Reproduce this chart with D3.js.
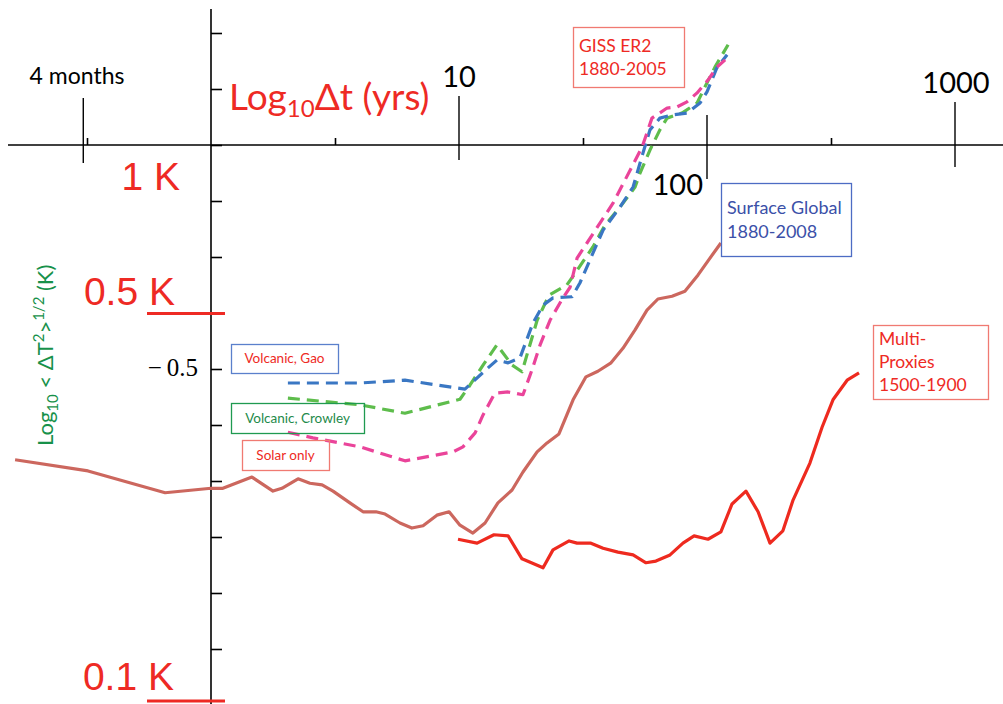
<!DOCTYPE html>
<html>
  <head>
    <meta charset="utf-8" />
    <script src="https://cdn.jsdelivr.net/npm/d3@7"></script>
    <style>
body { margin: 0; background: #ffffff; }
svg { display: block; }
.axis line { stroke: #000; stroke-width: 1.6; }
.axis path { display: none; }
.lbl { font-family: Lato, "Open Sans", sans-serif; }
.big { font-family: "Liberation Sans", Arial, sans-serif; fill: #ee2a24; font-size: 39px; }
    </style>
  </head>
  <body>
    <div id="chart"></div>
    <script type="text/javascript">
var w = 1003, h = 704;

// x = log10(dt in years), y = log10(rms dT in K)
var surfaceX = [-0.790,-0.496,-0.185,0,0.048,0.165,0.25,0.286,0.351,0.399,0.448,0.492,0.560,0.613,0.665,0.702,0.762,0.810,0.855,0.911,0.960,1.004,1.056,1.105,1.157,1.214,1.258,1.315,1.355,1.403,1.460,1.512,1.560,1.613,1.661,1.710,1.758,1.802,1.859,1.911,1.964,2.012,2.056];
var surfaceY = [-0.562,-0.582,-0.621,-0.613,-0.613,-0.593,-0.618,-0.613,-0.596,-0.604,-0.607,-0.618,-0.639,-0.655,-0.655,-0.659,-0.675,-0.684,-0.680,-0.661,-0.655,-0.679,-0.693,-0.675,-0.639,-0.616,-0.584,-0.548,-0.532,-0.516,-0.455,-0.414,-0.404,-0.389,-0.363,-0.330,-0.295,-0.275,-0.270,-0.261,-0.232,-0.202,-0.175];

var proxyX = [0.996,1.073,1.141,1.198,1.254,1.339,1.379,1.444,1.476,1.532,1.581,1.641,1.702,1.754,1.794,1.851,1.903,1.948,2.004,2.056,2.101,2.157,2.206,2.254,2.306,2.347,2.415,2.464,2.508,2.565,2.613];
var proxyY = [-0.704,-0.711,-0.696,-0.698,-0.739,-0.755,-0.723,-0.707,-0.711,-0.711,-0.720,-0.727,-0.732,-0.746,-0.743,-0.732,-0.711,-0.698,-0.704,-0.691,-0.641,-0.618,-0.655,-0.711,-0.689,-0.634,-0.568,-0.504,-0.455,-0.420,-0.407];

var crowleyX = [0.310,0.601,0.782,1.004,1.044,1.097,1.153,1.214,1.254,1.315,1.363,1.435,1.468,1.540,1.589,1.649,1.710,1.730,1.770,1.810,1.839,1.899,1.960,1.992,2.032,2.085];
var crowleyY = [-0.452,-0.464,-0.479,-0.454,-0.429,-0.393,-0.357,-0.393,-0.405,-0.313,-0.268,-0.250,-0.229,-0.182,-0.143,-0.111,-0.075,-0.050,-0.009,0.027,0.048,0.057,0.075,0.104,0.139,0.179];

var gaoX = [0.310,0.601,0.782,1.024,1.117,1.153,1.198,1.246,1.298,1.339,1.379,1.456,1.488,1.540,1.581,1.649,1.702,1.742,1.770,1.810,1.863,1.919,1.972,2.000,2.040,2.081];
var gaoY = [-0.425,-0.425,-0.420,-0.436,-0.398,-0.384,-0.389,-0.380,-0.318,-0.286,-0.273,-0.271,-0.246,-0.193,-0.152,-0.111,-0.075,-0.014,0.027,0.048,0.054,0.057,0.075,0.095,0.138,0.161];

var solarX = [0.310,0.411,0.601,0.782,0.976,1.016,1.065,1.097,1.145,1.198,1.258,1.294,1.327,1.367,1.419,1.448,1.476,1.516,1.569,1.621,1.669,1.738,1.778,1.839,1.879,1.919,1.960,2.004,2.040,2.073];
var solarY = [-0.513,-0.523,-0.539,-0.564,-0.548,-0.539,-0.514,-0.482,-0.443,-0.441,-0.446,-0.402,-0.357,-0.313,-0.273,-0.254,-0.202,-0.175,-0.139,-0.104,-0.063,-0.004,0.048,0.066,0.068,0.077,0.093,0.116,0.139,0.152];

var xMajor = [-0.515, 1, 2, 3];
var xMajorLabels = ["4 months", "10", "100", "1000"];
var xMinor = [-0.5, 0.5, 1.5, 2.5];
var yTicks = [0.2,0.1,0,-0.1,-0.2,-0.3,-0.4,-0.5,-0.6,-0.7,-0.8,-0.9,-1.0];
var kLabels = ["1 K", "0.5 K", "0.1 K"];
var kValues = [0, Math.log10(0.5), -1];

var x = d3.scaleLinear().domain([0, 1]).range([211, 459]);
var y = d3.scaleLinear().domain([0, -1]).range([145, 705]);

var svg = d3.select("#chart").append("svg")
    .attr("width", w).attr("height", h);

// axis lines
svg.append("line").attr("x1", 8).attr("x2", w).attr("y1", y(0)).attr("y2", y(0))
    .attr("stroke", "#000").attr("stroke-width", 1.6);
svg.append("line").attr("x1", x(0)).attr("x2", x(0)).attr("y1", 9).attr("y2", h)
    .attr("stroke", "#000").attr("stroke-width", 1.6);

svg.append("g").attr("class", "axis")
    .attr("transform", "translate(" + x(0) + ",0)")
    .call(d3.axisRight(y).tickValues(yTicks).tickSize(11).tickFormat(""));

svg.append("g").attr("class", "axis")
    .attr("transform", "translate(0," + y(0) + ")")
    .call(d3.axisTop(x).tickValues(xMinor).tickSize(7).tickFormat(""));

// major x ticks (cross the axis)
var majUp = [47, 49, 30, 43], majDown = [18, 15, 34, 22];
xMajor.forEach(function(v, i) {
    svg.append("line")
	.attr("x1", x(v)).attr("x2", x(v))
	.attr("y1", y(0) - majUp[i]).attr("y2", y(0) + majDown[i])
	.attr("stroke", "#000").attr("stroke-width", 1.4);
});

// major tick labels
var labPos = [[77, 84, 23, "middle"], [459, 87, 29, "middle"], [703, 195, 29, "end"], [956, 93, 29, "middle"]];
xMajorLabels.forEach(function(t, i) {
    svg.append("text").attr("class", "lbl")
	.attr("x", labPos[i][0]).attr("y", labPos[i][1])
	.attr("font-size", labPos[i][2] + "px")
	.attr("text-anchor", labPos[i][3])
	.attr("fill", "#000")
	.text(t);
});

// x axis title
var xt = svg.append("text").attr("class", "lbl")
    .attr("x", 229).attr("y", 110)
    .attr("font-size", "37px").attr("fill", "#ee2a24");
xt.append("tspan").text("Log");
xt.append("tspan").attr("font-size", "24px").attr("dy", 7).text("10");
xt.append("tspan").attr("dy", -7).text("\u0394t (yrs)");

// K labels and red markers
var kPos = [[180, 190], [175, 305], [174, 690]];
kLabels.forEach(function(t, i) {
    svg.append("text").attr("class", "big")
	.attr("x", kPos[i][0]).attr("y", kPos[i][1])
	.attr("text-anchor", "end")
	.text(t);
});
[1, 2].forEach(function(i) {
    var yy = Math.min(y(kValues[i]), 701);
    svg.append("line")
	.attr("x1", x(0) - 64).attr("x2", x(0) + 14)
	.attr("y1", yy).attr("y2", yy)
	.attr("stroke", "#ee2a24").attr("stroke-width", 3);
});

// the odd -0.5 label next to the -0.4 tick
svg.append("text")
    .attr("x", 198).attr("y", 376)
    .attr("text-anchor", "end")
    .attr("font-family", "'Liberation Serif', serif")
    .attr("font-size", "25px")
    .text("\u2212\u20090.5");

// y axis title
var yt = svg.append("text").attr("class", "lbl")
    .attr("transform", "translate(53,446) rotate(-90)")
    .attr("font-size", "22px").attr("fill", "#17914a");
yt.append("tspan").text("Log");
yt.append("tspan").attr("font-size", "15px").attr("dy", 5).text("10");
yt.append("tspan").attr("dy", -5).text(" < \u0394T");
yt.append("tspan").attr("font-size", "15px").attr("dy", -9).text("2");
yt.append("tspan").attr("dy", 9).text(">");
yt.append("tspan").attr("font-size", "15px").attr("dy", -9).text("1/2");
yt.append("tspan").attr("dy", 9).text(" (K)");

// series
function zip(a, b) { return a.map(function(v, i) { return [v, b[i]]; }); }
var line = d3.line().x(function(d) { return x(d[0]); }).y(function(d) { return y(d[1]); });

var series = [
    { pts: zip(surfaceX, surfaceY), color: "#cc675e", dash: null },
    { pts: zip(proxyX, proxyY), color: "#ee2a1f", dash: null },
    { pts: zip(crowleyX, crowleyY), color: "#5ebd4c", dash: "12,7" },
    { pts: zip(gaoX, gaoY), color: "#3a77c3", dash: "12,7" },
    { pts: zip(solarX, solarY), color: "#ea449a", dash: "12,7" }
];

svg.selectAll("path.series")
    .data(series).enter().append("path")
    .attr("class", "series")
    .attr("d", function(d) { return line(d.pts); })
    .attr("fill", "none")
    .attr("stroke", function(d) { return d.color; })
    .attr("stroke-width", 3.2)
    .attr("stroke-linejoin", "round")
    .style("stroke-dasharray", function(d) { return d.dash; });

// annotation boxes
var boxes = [
    { x: 573, y: 27, w: 111, h: 60, stroke: "#f07a72", fill: "#ee2a24", size: 17.5, lh: 23, lines: ["GISS ER2", "1880-2005"] },
    { x: 721, y: 183, w: 130, h: 73, stroke: "#4d6cc4", fill: "#3b50a8", size: 18, lh: 24, lines: ["Surface Global", "1880-2008"] },
    { x: 873, y: 325, w: 115, h: 74, stroke: "#f07a72", fill: "#ee2a24", size: 17.5, lh: 23, lines: ["Multi-", "Proxies", "1500-1900"] },
    { x: 231, y: 344, w: 107, h: 29, stroke: "#5a80cc", fill: "#ee2a24", size: 13.5, lh: 0, lines: ["Volcanic, Gao"] },
    { x: 231, y: 403, w: 133, h: 30, stroke: "#1f9a50", fill: "#1e8a4a", size: 13.5, lh: 0, lines: ["Volcanic, Crowley"] },
    { x: 242, y: 440, w: 87, h: 30, stroke: "#f07a72", fill: "#ee2a24", size: 13.5, lh: 0, lines: ["Solar only"] }
];

boxes.forEach(function(b) {
    svg.append("rect")
	.attr("x", b.x + 0.5).attr("y", b.y + 0.5)
	.attr("width", b.w).attr("height", b.h)
	.attr("fill", "none").attr("stroke", b.stroke).attr("stroke-width", 1.3);
    var n = b.lines.length;
    b.lines.forEach(function(t, i) {
	var ty = n == 1 ? b.y + b.h / 2 + b.size * 0.36 : b.y + b.h / 2 + (i - (n - 1) / 2) * b.lh + b.size * 0.36;
	svg.append("text").attr("class", "lbl")
	    .attr("x", n == 1 ? b.x + b.w / 2 : b.x + 6)
	    .attr("y", ty)
	    .attr("text-anchor", n == 1 ? "middle" : "start")
	    .attr("font-size", b.size + "px")
	    .attr("fill", b.fill)
	    .text(t);
    });
});
    </script>
  </body>
</html>
